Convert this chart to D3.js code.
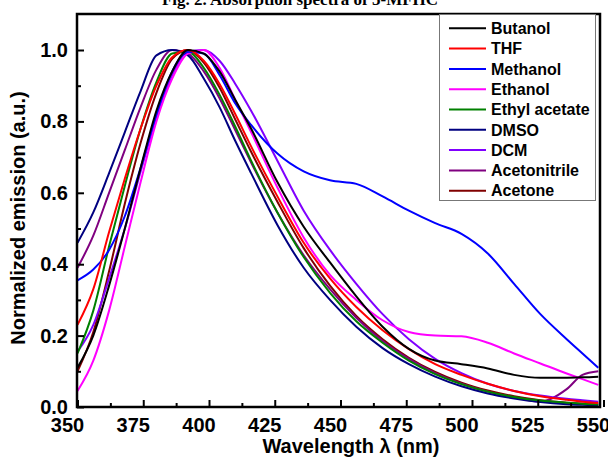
<!DOCTYPE html>
<html>
<head>
<meta charset="utf-8">
<script src="https://cdn.jsdelivr.net/npm/d3@7"></script>
<style>
body { margin: 0; background: #fff; }
</style>
</head>
<body>
<svg id="chart"></svg>
<script>
var w = 608;
var h = 463;

// wavelength grid (nm)
var wavelength = [354, 360, 366, 372, 378, 384, 390, 396, 402, 408, 414, 420, 430, 440, 450, 460, 470, 480, 490, 500, 510, 520, 530, 540, 546, 552];

var butanol = [0.11, 0.2, 0.34, 0.5, 0.67, 0.83, 0.94, 1.0, 0.99, 0.94, 0.86, 0.78, 0.63, 0.505, 0.405, 0.31, 0.225, 0.163, 0.13, 0.12, 0.108, 0.09, 0.082, 0.082, 0.083, 0.085];
var thf = [0.23, 0.33, 0.49, 0.64, 0.78, 0.9, 0.98, 1.0, 0.97, 0.905, 0.82, 0.73, 0.59, 0.46, 0.36, 0.28, 0.215, 0.162, 0.12, 0.09, 0.065, 0.045, 0.03, 0.02, 0.015, 0.011];
var methanol = [0.355, 0.385, 0.44, 0.535, 0.67, 0.82, 0.94, 0.995, 0.99, 0.93, 0.85, 0.79, 0.71, 0.66, 0.635, 0.625, 0.59, 0.55, 0.515, 0.485, 0.43, 0.345, 0.26, 0.19, 0.15, 0.11];
var ethanol = [0.045, 0.13, 0.27, 0.45, 0.63, 0.8, 0.92, 0.99, 1.0, 0.95, 0.86, 0.77, 0.615, 0.475, 0.37, 0.3, 0.243, 0.21, 0.2, 0.198, 0.18, 0.15, 0.122, 0.094, 0.078, 0.062];
var ethylAcetate = [0.15, 0.27, 0.45, 0.62, 0.78, 0.91, 0.99, 0.995, 0.95, 0.875, 0.785, 0.69, 0.545, 0.42, 0.32, 0.24, 0.18, 0.13, 0.092, 0.064, 0.043, 0.028, 0.018, 0.012, 0.009, 0.007];
var dmso = [0.46, 0.545, 0.655, 0.77, 0.885, 0.985, 1.0, 0.985, 0.92, 0.84, 0.745, 0.655, 0.51, 0.39, 0.3, 0.225, 0.165, 0.12, 0.085, 0.058, 0.038, 0.024, 0.014, 0.008, 0.006, 0.004];
var dcm = [0.155, 0.23, 0.36, 0.5, 0.66, 0.81, 0.93, 0.995, 1.0, 0.97, 0.905, 0.83, 0.69, 0.55, 0.44, 0.345, 0.26, 0.19, 0.135, 0.095, 0.065, 0.045, 0.032, 0.023, 0.019, 0.015];
var acetonitrile = [0.39, 0.48, 0.6, 0.72, 0.84, 0.945, 1.0, 0.99, 0.94, 0.865, 0.775, 0.685, 0.545, 0.425, 0.33, 0.25, 0.185, 0.135, 0.095, 0.065, 0.043, 0.027, 0.015, 0.05, 0.09, 0.1];
var acetone = [0.1, 0.21, 0.38, 0.57, 0.74, 0.88, 0.975, 1.0, 0.965, 0.895, 0.805, 0.715, 0.575, 0.445, 0.34, 0.255, 0.19, 0.138, 0.098, 0.068, 0.046, 0.03, 0.019, 0.012, 0.009, 0.007];

var names = ["Butanol", "THF", "Methanol", "Ethanol", "Ethyl acetate", "DMSO", "DCM", "Acetonitrile", "Acetone"];
var colors = ["#000000", "#ff0000", "#0000ff", "#ff00ff", "#008000", "#000080", "#8000ff", "#800080", "#800000"];
var seriesValues = [butanol, thf, methanol, ethanol, ethylAcetate, dmso, dcm, acetonitrile, acetone];

var xTicks = [350, 375, 400, 425, 450, 475, 500, 525, 550];
var xMinor = [362.5, 387.5, 412.5, 437.5, 462.5, 487.5, 512.5, 537.5];
var yTicks = [0, 0.2, 0.4, 0.6, 0.8, 1.0];
var yMinor = [0.1, 0.3, 0.5, 0.7, 0.9];

var frame = { left: 77, top: 14, right: 600, bottom: 407 };
var tickShift = 10.5;

var svg = d3.select("#chart")
	.attr("width", w)
	.attr("height", h);

var xScale = d3.scaleLinear()
	.domain([350, 550])
	.range([67, 593]);
var yScale = d3.scaleLinear()
	.domain([0, 1])
	.range([407, 50]);

svg.append("defs").append("clipPath")
	.attr("id", "plotclip")
	.append("rect")
	.attr("x", frame.left)
	.attr("y", frame.top)
	.attr("width", frame.right - frame.left)
	.attr("height", frame.bottom - frame.top);

// title (cut off at top)
svg.append("text")
	.attr("x", 300)
	.attr("y", 5)
	.attr("text-anchor", "middle")
	.attr("font-family", "Liberation Serif, Times New Roman, serif")
	.attr("font-weight", "bold")
	.attr("font-size", 17)
	.text("Fig. 2. Absorption spectra of 5-MFHC");

var line = d3.line()
	.x(function (d) {
		return xScale(d.x);
	})
	.y(function (d) {
		return yScale(d.y);
	})
	.curve(d3.curveMonotoneX);

var plot = svg.append("g").attr("clip-path", "url(#plotclip)");
// draw in reverse so Butanol ends up on top
for (var i = seriesValues.length - 1; i >= 0; i--) {
	var pts = wavelength.map(function (wl, j) {
		return { x: wl, y: seriesValues[i][j] };
	});
	plot.append("path")
		.datum(pts)
		.attr("d", line)
		.attr("fill", "none")
		.attr("stroke", colors[i])
		.attr("stroke-width", 2);
}

// x axis
var xAxis = d3.axisBottom(xScale)
	.tickValues(xTicks)
	.tickSize(-7)
	.tickPadding(11)
	.tickFormat(d3.format("d"));
var gx = svg.append("g")
	.attr("transform", "translate(0," + frame.bottom + ")")
	.call(xAxis);
gx.select(".domain").remove();
gx.selectAll("line").attr("stroke-width", 2).attr("transform", "translate(" + tickShift + ",0)");
gx.selectAll("text")
	.attr("font-family", "Liberation Sans, Arial, sans-serif")
	.attr("font-weight", "bold")
	.attr("font-size", 20)
	.attr("fill", "#000");

var gxm = svg.append("g")
	.attr("transform", "translate(0," + frame.bottom + ")")
	.call(d3.axisBottom(xScale).tickValues(xMinor).tickSize(-4).tickFormat(""));
gxm.select(".domain").remove();
gxm.selectAll("line").attr("stroke-width", 2).attr("transform", "translate(" + tickShift + ",0)");

// y axis
var yAxis = d3.axisLeft(yScale)
	.tickValues(yTicks)
	.tickSize(-7)
	.tickPadding(9)
	.tickFormat(d3.format(".1f"));
var gy = svg.append("g")
	.attr("transform", "translate(" + frame.left + ",0)")
	.call(yAxis);
gy.select(".domain").remove();
gy.selectAll("line").attr("stroke-width", 2);
gy.selectAll("text")
	.attr("font-family", "Liberation Sans, Arial, sans-serif")
	.attr("font-weight", "bold")
	.attr("font-size", 20)
	.attr("fill", "#000");

var gym = svg.append("g")
	.attr("transform", "translate(" + frame.left + ",0)")
	.call(d3.axisLeft(yScale).tickValues(yMinor).tickSize(-4).tickFormat(""));
gym.select(".domain").remove();
gym.selectAll("line").attr("stroke-width", 2);

// frame
svg.append("rect")
	.attr("x", frame.left)
	.attr("y", frame.top)
	.attr("width", frame.right - frame.left)
	.attr("height", frame.bottom - frame.top)
	.attr("fill", "none")
	.attr("stroke", "#000")
	.attr("stroke-width", 2.5);

// axis titles
svg.append("text")
	.attr("x", 351)
	.attr("y", 453)
	.attr("text-anchor", "middle")
	.attr("font-family", "Liberation Sans, Arial, sans-serif")
	.attr("font-weight", "bold")
	.attr("font-size", 20)
	.text("Wavelength \u03bb (nm)");

svg.append("text")
	.attr("transform", "translate(25,218) rotate(-90)")
	.attr("text-anchor", "middle")
	.attr("font-family", "Liberation Sans, Arial, sans-serif")
	.attr("font-weight", "bold")
	.attr("font-size", 20)
	.text("Normalized emission (a.u.)");

// legend
var legend = svg.append("g");
legend.append("rect")
	.attr("x", 439.5)
	.attr("y", 14.5)
	.attr("width", 156)
	.attr("height", 186)
	.attr("fill", "#fff")
	.attr("stroke", "#777")
	.attr("stroke-width", 1);
var rows = legend.selectAll("g.row")
	.data(names)
	.enter()
	.append("g")
	.attr("class", "row")
	.attr("transform", function (d, i) {
		return "translate(0," + (28.3 + i * 20.3) + ")";
	});
rows.append("line")
	.attr("x1", 449)
	.attr("x2", 486)
	.attr("stroke", function (d, i) {
		return colors[i];
	})
	.attr("stroke-width", 2);
rows.append("text")
	.attr("x", 491)
	.attr("dy", "0.36em")
	.attr("font-family", "Liberation Sans, Arial, sans-serif")
	.attr("font-weight", "bold")
	.attr("font-size", 16)
	.text(function (d) {
		return d;
	});
</script>
</body>
</html>
